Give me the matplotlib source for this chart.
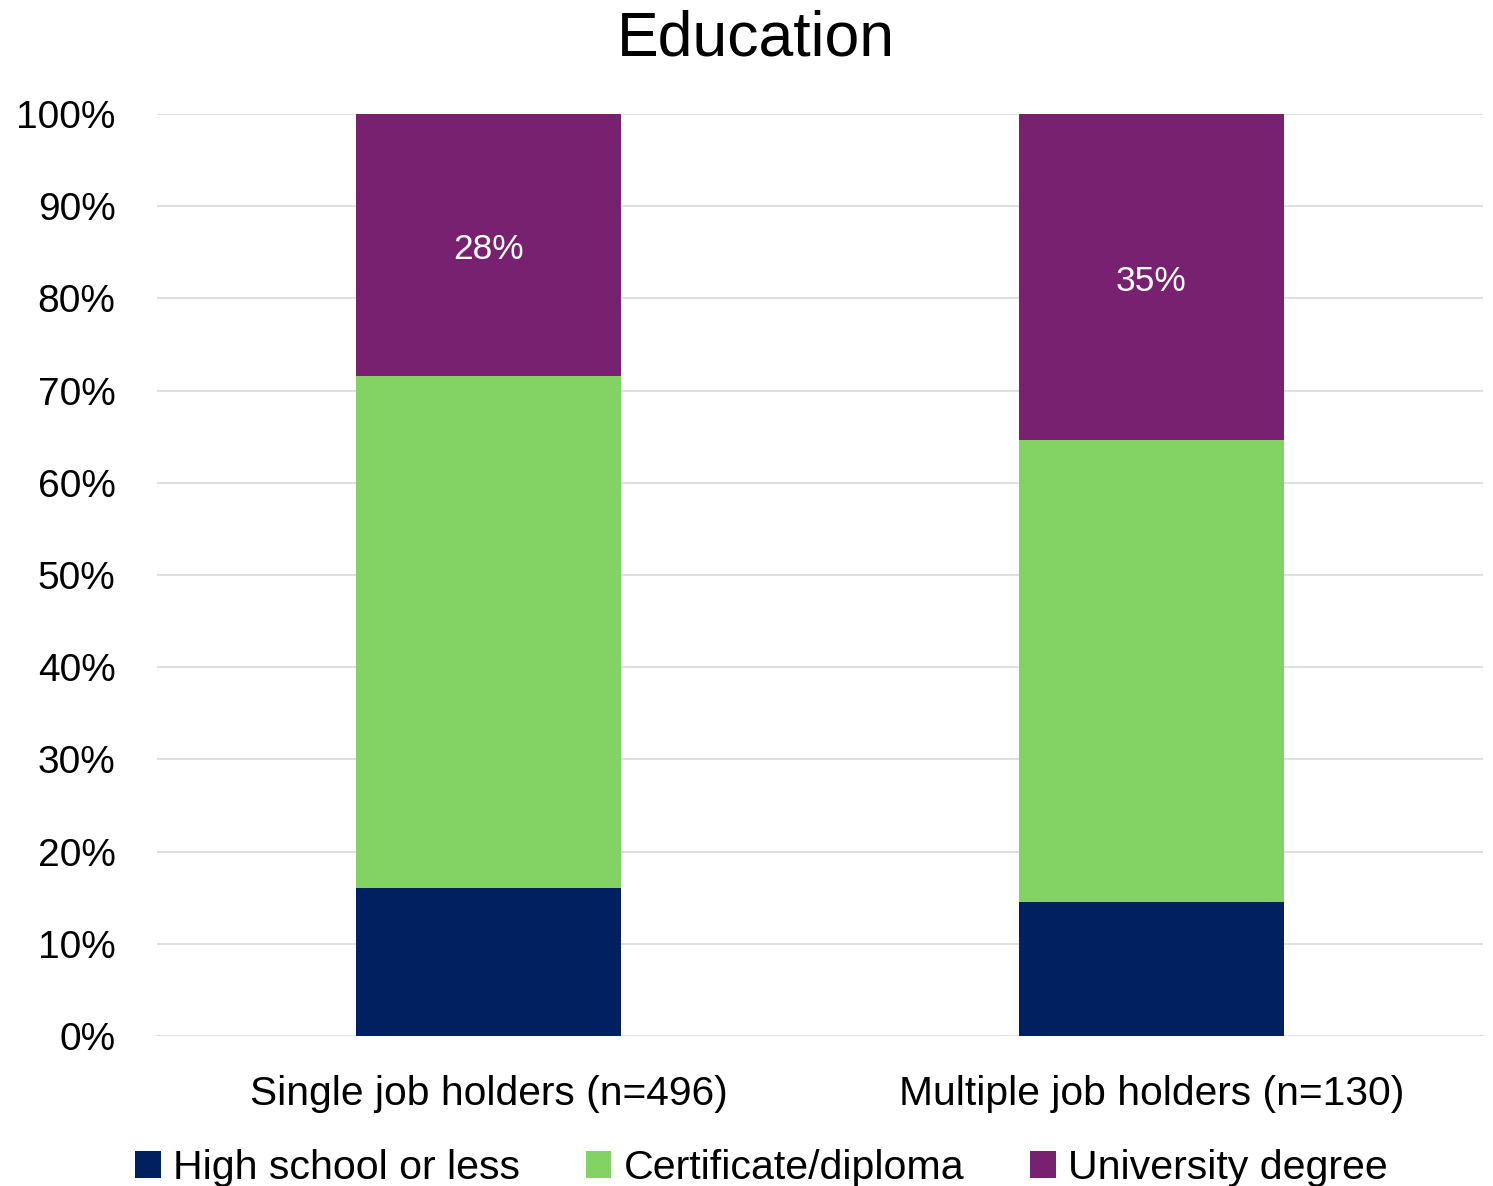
import matplotlib
matplotlib.use("Agg")
import matplotlib.pyplot as plt
from matplotlib.ticker import PercentFormatter

categories = ["Single job holders (n=496)", "Multiple job holders (n=130)"]
series_names = ["High school or less", "Certificate/diploma", "University degree"]
high_school = [16.0, 14.5]
certificate = [55.6, 50.1]
university = [28.4, 35.4]
label_series = "University degree"

colors = ["#002060", "#83D264", "#782170"]

plt.rcParams['font.family'] = ['Liberation Sans', 'DejaVu Sans']

fig = plt.figure(figsize=(14.93, 11.86), dpi=100)
ax = fig.add_axes([0.1052, 0.1265, 0.8881, 0.7774])

x = list(range(len(categories)))
values = [high_school, certificate, university]
bottom = [0.0] * len(categories)
for name, vals, col in zip(series_names, values, colors):
    bars = ax.bar(x, vals, width=0.4, bottom=bottom, color=col, label=name, zorder=3)
    if name == label_series:
        for b, v in zip(bars, vals):
            ax.text(b.get_x() + b.get_width() / 2, b.get_y() + b.get_height() / 2 - 0.5,
                    f"{round(v):.0f}%", ha='center', va='center', color='white',
                    fontsize=25.5, zorder=4)
    bottom = [b + v for b, v in zip(bottom, vals)]

ax.set_xlim(-0.5, 1.5)
ax.set_ylim(0, 100)
ax.set_yticks(range(0, 101, 10))
ax.yaxis.set_major_formatter(PercentFormatter(decimals=0))
ax.set_xticks(x)
ax.set_xticklabels(categories, fontsize=29.3)
ax.tick_params(axis='both', length=0)
ax.tick_params(axis='y', pad=30, labelsize=28)
ax.tick_params(axis='x', pad=28)
ax.grid(axis='y', color='#d9d9d9', linewidth=1.2, zorder=0)
for s in ax.spines.values():
    s.set_visible(False)

fig.text(0.506, 0.967, "Education", fontsize=45, ha='center', va='center')

fig.legend(loc='lower center', bbox_to_anchor=(0.51, -0.032), ncol=3, frameon=False,
           fontsize=29.6, handlelength=0.62, handleheight=0.62, handletextpad=0.3,
           columnspacing=1.6)

fig.savefig("out.png", dpi=100)
